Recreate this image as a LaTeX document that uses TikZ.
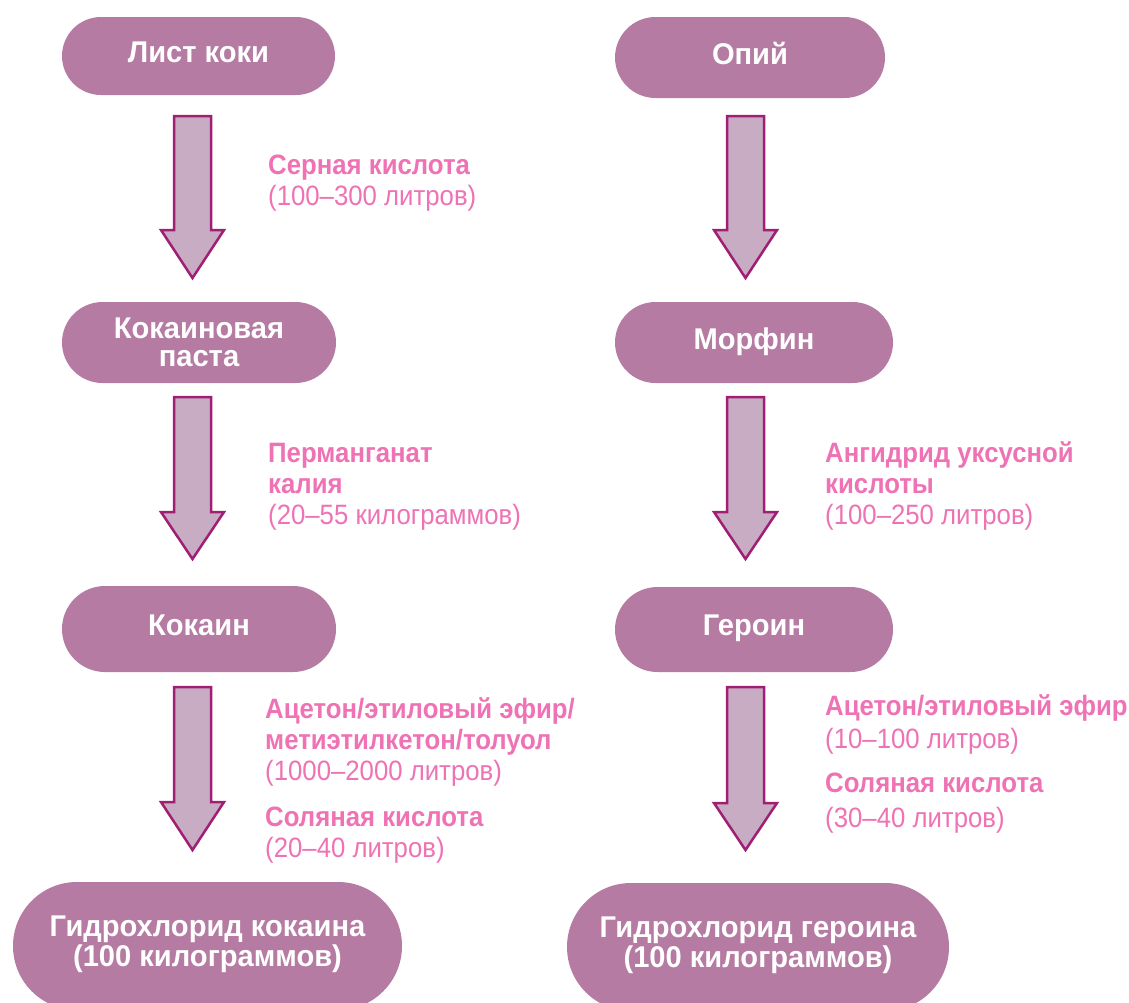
\documentclass[tikz,border=0pt]{standalone}
\usepackage{fontspec}
\setmainfont{Liberation Sans}
\newfontfamily\stagefont{Liberation Sans}[FakeStretch=0.97]
\newfontfamily\chemfont{Liberation Sans}[FakeStretch=0.92]
\usetikzlibrary{calc}
\definecolor{nodefill}{HTML}{B57BA3}
\definecolor{arrfill}{HTML}{C8ACC3}
\definecolor{arrline}{HTML}{A01E73}
\definecolor{lbl}{HTML}{EE72B4}
\newcommand\blockarr[4]{%
  \draw[barrow] (#1-18.5,#2) -- (#1+18.5,#2) -- (#1+18.5,#3) -- (#1+31.5,#3)
    -- (#1,#4) -- (#1-31.5,#3) -- (#1-18.5,#3) -- cycle;}
\begin{document}
\begin{tikzpicture}[x=1pt,y=-1pt,
  stage/.style={fill=nodefill, draw=none, text=white,
    font=\stagefont\fontsize{30}{28.5}\selectfont\bfseries, align=center, inner sep=0pt},
  bigstage/.style={stage, font=\stagefont\fontsize{30}{30}\selectfont\bfseries,
    text depth=10pt, minimum height=128pt, rounded corners=64pt},
  chem/.style={text=lbl, font=\chemfont\fontsize{28}{31}\selectfont, align=left,
    anchor=base west, inner sep=0pt},
  barrow/.style={fill=arrfill, draw=arrline, line width=2.5pt, line join=miter}]
\useasboundingbox (0,0) rectangle (1129,1002);
\clip (0,0) rectangle (1129,1002);

% left column
\node[stage, text depth=8pt, minimum width=273pt, minimum height=78pt, rounded corners=39pt] (n1) at (198.5,56) {Лист коки};
\node[stage, minimum width=274pt, minimum height=81pt, rounded corners=40.5pt] (n2) at (199,342.5) {Кокаиновая\\паста};
\node[stage, text depth=8pt, minimum width=274pt, minimum height=86pt, rounded corners=43pt] (n3) at (199,629) {Кокаин};
\node[bigstage, minimum width=389pt] (n4) at (207.5,946) {Гидрохлорид кокаина\\(100 килограммов)};

% right column
\node[stage, text depth=8pt, minimum width=270pt, minimum height=81pt, rounded corners=40.5pt] (o1) at (750,57.5) {Опий};
\node[stage, text depth=8pt, minimum width=278pt, minimum height=81pt, rounded corners=40.5pt] (o2) at (754,342.5) {Морфин};
\node[stage, text depth=8pt, minimum width=278pt, minimum height=85pt, rounded corners=42.5pt] (o3) at (754,629.5) {Героин};
\node[bigstage, minimum width=382pt] (o4) at (758,947) {Гидрохлорид героина\\(100 килограммов)};

% arrows
\blockarr{192.5}{116}{230}{278}
\blockarr{192.5}{397}{512}{559}
\blockarr{192.5}{687}{802}{850}
\blockarr{745.5}{116}{230}{278}
\blockarr{745.5}{397}{512}{559}
\blockarr{745.5}{687}{803}{850}

% labels (anchored at the baseline of their last line)
\node[chem] (l1) at (268,205) {\textbf{Серная кислота}\\(100–300 литров)};
\node[chem] (l2) at (268,524) {\textbf{Перманганат}\\\textbf{калия}\\(20–55 килограммов)};
\node[chem] (l3a) at (265,780) {\textbf{Ацетон/этиловый эфир/}\\\textbf{метиэтилкетон/толуол}\\(1000–2000 литров)};
\node[chem] (l3b) at (265,857) {\textbf{Соляная кислота}\\(20–40 литров)};
\node[chem] (r2) at (825,524) {\textbf{Ангидрид уксусной}\\\textbf{кислоты}\\(100–250 литров)};
\node[chem, font=\chemfont\fontsize{28}{33}\selectfont] (r3a) at (825,748) {\textbf{Ацетон/этиловый эфир}\\(10–100 литров)};
\node[chem, font=\chemfont\fontsize{28}{35}\selectfont] (r3b) at (825,827) {\textbf{Соляная кислота}\\(30–40 литров)};
\end{tikzpicture}
\end{document}
